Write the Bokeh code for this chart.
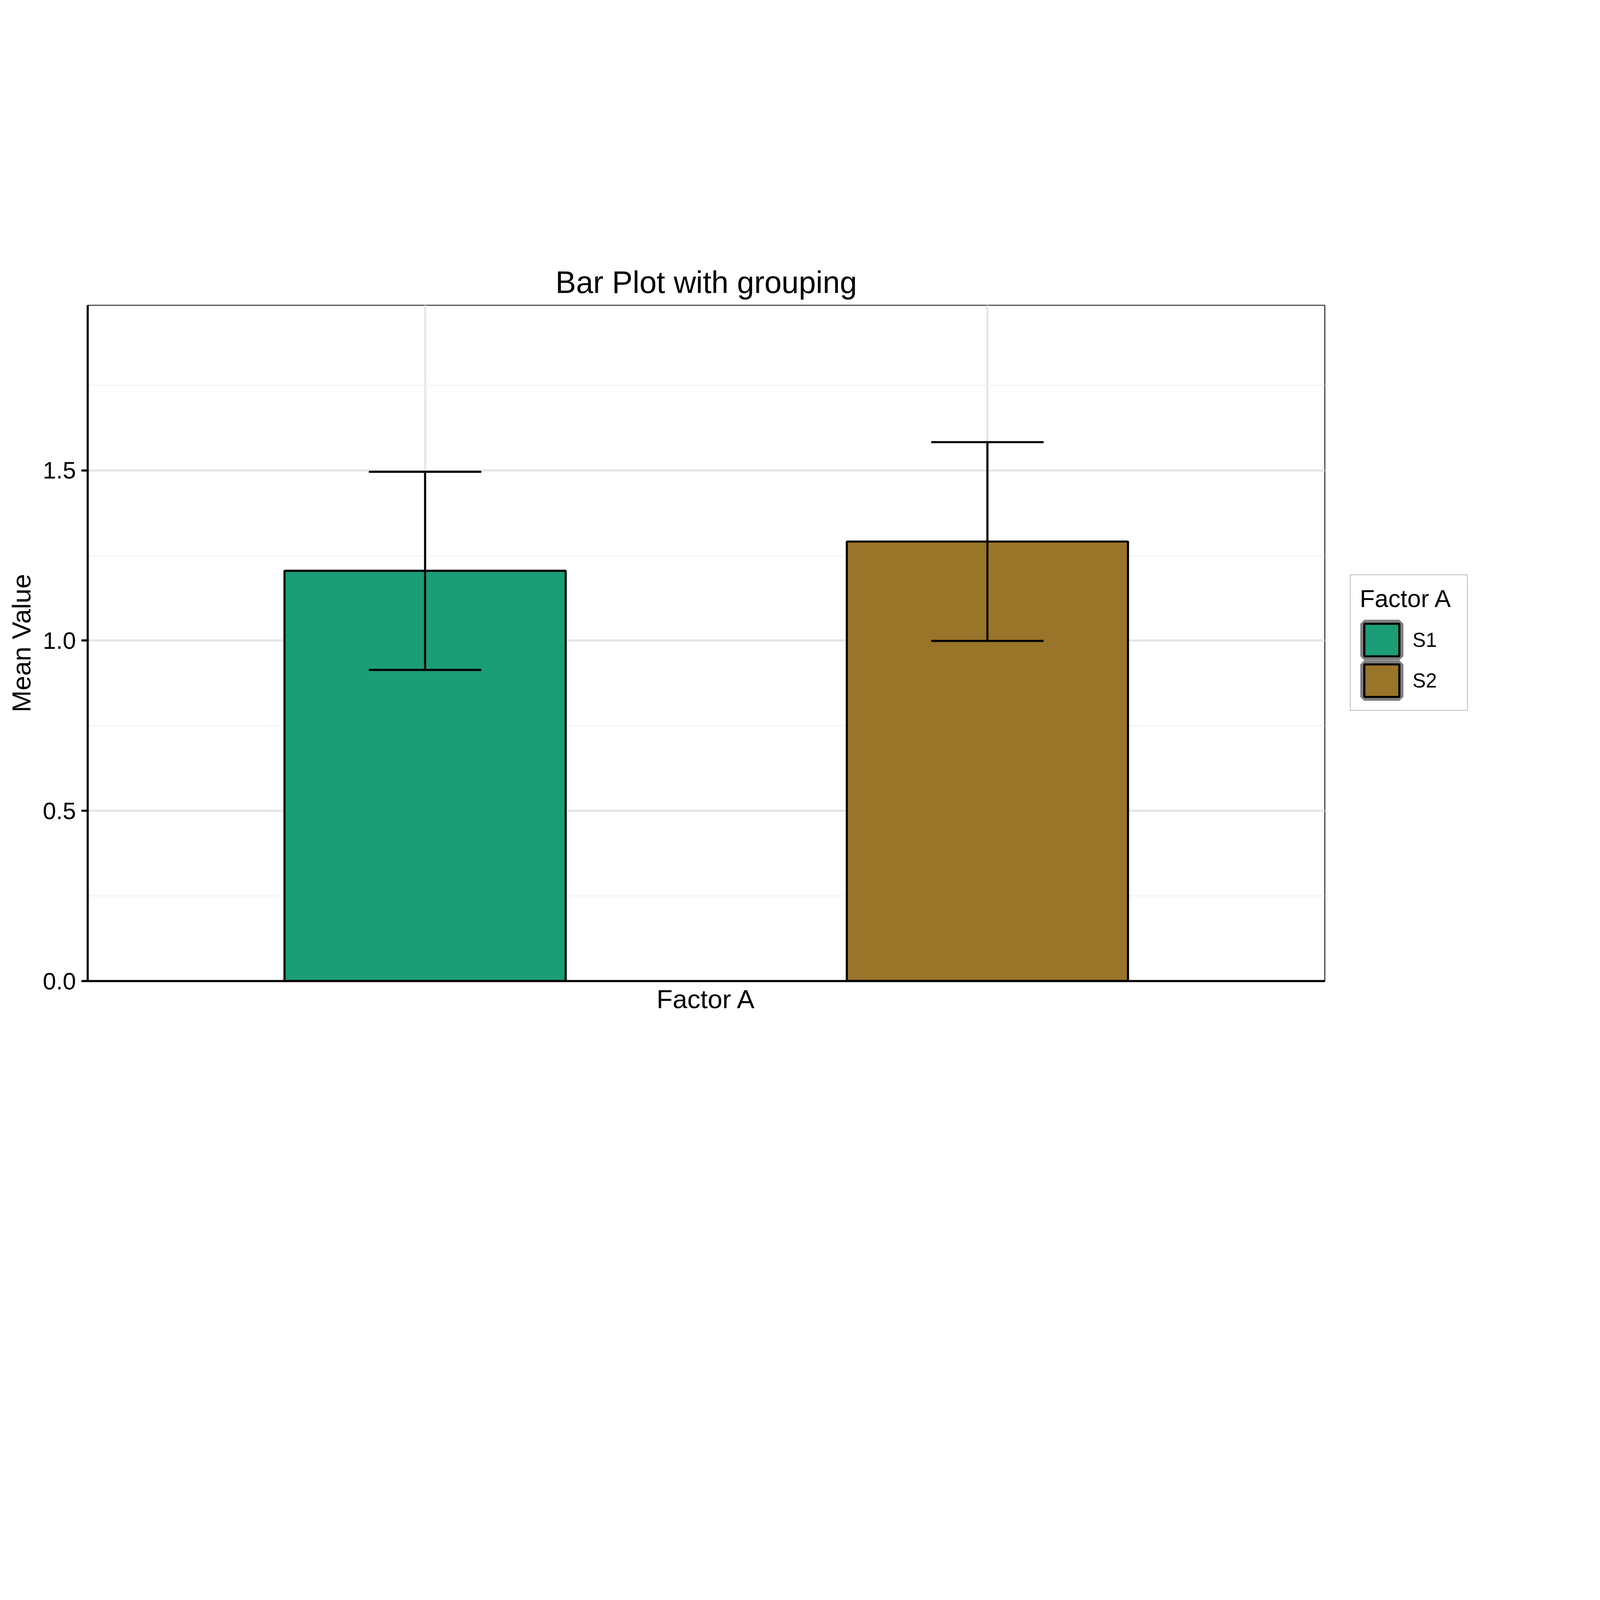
from bokeh.plotting import figure
from bokeh.models import (ColumnDataSource, Range1d, FixedTicker, Legend, LegendItem,
                          PrintfTickFormatter)
from bokeh.embed import file_html
from bokeh.resources import INLINE

# ---- data ----
groups = ["S1", "S2"]
x_pos = [1, 2]
means = [1.205, 1.291]
se = [0.291, 0.292]
colors = ["#1B9E77", "#99752A"]
y_ticks = [0.0, 0.5, 1.0, 1.5]

BAR_W = 0.5
CAP_W = 0.2
FONT = "Liberation Sans"

# the page is laid out on a scaled copy of the reference canvas
K = 0.68


def px(v):
    return int(round(v * K))


def fs(v):
    return f"{v * K:.1f}px"


lower = [m - s for m, s in zip(means, se)]
upper = [m + s for m, s in zip(means, se)]
src = ColumnDataSource(dict(
    x=x_pos, top=means, color=colors, group=groups, lower=lower, upper=upper,
    cap_l=[x - CAP_W / 2 for x in x_pos], cap_r=[x + CAP_W / 2 for x in x_pos]))

W, H = px(6000), px(4800)
p = figure(width=W, height=H,
           x_range=Range1d(0.4, 2.6), y_range=Range1d(0, 1.985),
           output_backend="svg", toolbar_location=None,
           min_border_left=px(330), min_border_right=W - px(5419),
           min_border_top=px(1148), min_border_bottom=H - px(3692),
           title="Bar Plot with grouping",
           x_axis_label="Factor A", y_axis_label="Mean Value")
p.background_fill_color = "white"
p.border_fill_color = "white"
p.outline_line_color = "#333333"
p.outline_line_width = 4 * K

p.title.text_font = FONT
p.title.text_font_size = fs(116)
p.title.text_font_style = "normal"
p.title.text_color = "black"
p.title.align = "center"
p.title.standoff = px(42)

LW = 8 * K

# y axis
yax = p.yaxis[0]
yax.ticker = FixedTicker(ticks=y_ticks, minor_ticks=[t + 0.25 for t in y_ticks])
yax.formatter = PrintfTickFormatter(format="%.1f")
yax.axis_line_color = "black"
yax.axis_line_width = LW
yax.major_tick_line_color = "black"
yax.major_tick_line_width = LW
yax.major_tick_out = px(23)
yax.major_tick_in = 0
yax.minor_tick_line_color = None
yax.major_label_standoff = px(21)
yax.major_label_text_font = FONT
yax.major_label_text_font_size = fs(90)
yax.major_label_text_color = "black"
yax.axis_label_text_font = FONT
yax.axis_label_text_font_size = fs(99)
yax.axis_label_text_font_style = "normal"
yax.axis_label_text_color = "black"
yax.axis_label_standoff = px(20)

# x axis
xax = p.xaxis[0]
xax.ticker = FixedTicker(ticks=[])
xax.axis_line_color = "black"
xax.axis_line_width = LW
xax.major_tick_line_color = None
xax.minor_tick_line_color = None
xax.major_tick_out = 0
xax.major_tick_in = 0
xax.major_label_standoff = 0
xax.axis_label_text_font = FONT
xax.axis_label_text_font_size = fs(99)
xax.axis_label_text_font_style = "normal"
xax.axis_label_text_color = "black"
xax.axis_label_standoff = px(12)

# grids
p.xgrid[0].ticker = FixedTicker(ticks=x_pos)
p.xgrid[0].grid_line_color = "#E5E5E5"
p.xgrid[0].grid_line_width = LW
p.ygrid[0].grid_line_color = "#E5E5E5"
p.ygrid[0].grid_line_width = LW
p.ygrid[0].minor_grid_line_color = "#F2F2F2"
p.ygrid[0].minor_grid_line_width = 4 * K

# legend key geometry (Bokeh draws area keys at 80 % of the glyph box)
GLYPH_W, GLYPH_H = 112, 104
LEG_PAD = px(36)

# grey key frame: muted (invisible) in the plot, drawn normally in the legend
key_frame = p.vbar(x="x", top="top", width=BAR_W, source=src,
                   fill_color=None, line_color="#7F7F7F",
                   line_width=0.2 * GLYPH_H, muted_alpha=0)
key_frame.muted = True
bars = p.vbar(x="x", top="top", bottom=0, width=BAR_W, source=src,
              fill_color="color", line_color="black", line_width=LW)

# error bars
p.segment(x0="x", y0="lower", x1="x", y1="upper", source=src,
          line_color="black", line_width=LW)
p.segment(x0="cap_l", y0="upper", x1="cap_r", y1="upper", source=src,
          line_color="black", line_width=LW)
p.segment(x0="cap_l", y0="lower", x1="cap_r", y1="lower", source=src,
          line_color="black", line_width=LW)

LEG_W = px(440)
LABEL_STANDOFF = px(234) - LEG_PAD - GLYPH_W
legend = Legend(
    items=[LegendItem(label=g, renderers=[key_frame, bars], index=i)
           for i, g in enumerate(groups)],
    title="Factor A", location=(px(96), px(1018)), margin=0,
    padding=LEG_PAD, spacing=0,
    glyph_width=GLYPH_W, glyph_height=GLYPH_H, label_standoff=LABEL_STANDOFF,
    label_width=LEG_W - 2 * LEG_PAD - GLYPH_W - LABEL_STANDOFF,
    title_standoff=18, click_policy="none",
    label_text_font=FONT, label_text_font_size=fs(75), label_text_color="black",
    title_text_font=FONT, title_text_font_size=fs(92), title_text_font_style="normal",
    title_text_color="black",
    border_line_color="black", border_line_width=2 * K,
    background_fill_color="white", background_fill_alpha=1.0)
p.add_layout(legend, "right")

open("out.html", "w").write(file_html(p, INLINE))
